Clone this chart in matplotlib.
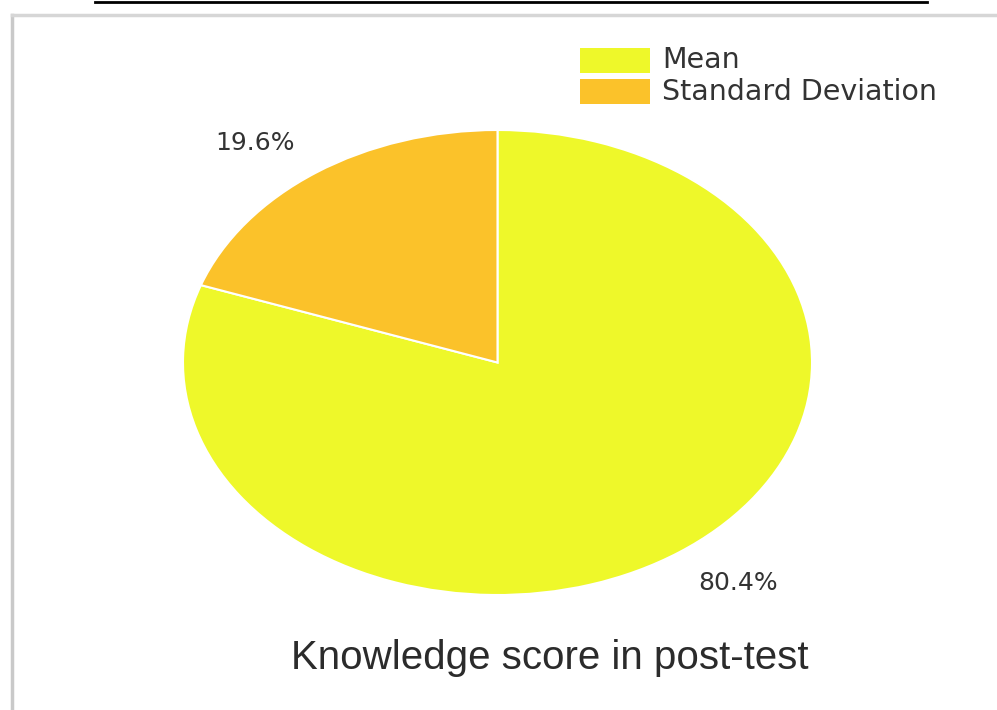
import matplotlib.pyplot as plt
from matplotlib.patches import Rectangle
from matplotlib.lines import Line2D

# ============================================================
# Data
# ============================================================

labels = ['Mean', 'Standard Deviation']
values = [80.4, 19.6]
colors = ['#eef82a', '#fbc22a']
title = 'Knowledge score in post-test'

W, H = 997, 710

fig = plt.figure(figsize=(W / 100, H / 100), dpi=100)

# frame lines (gray box + black rule at the top)
fig.add_artist(Line2D([12 / W, 12 / W], [0, 1 - 15 / H], color='#c9c9c9', lw=2.5))
fig.add_artist(Line2D([12 / W, 1], [1 - 15 / H, 1 - 15 / H], color='#d6d6d6', lw=2.5))
fig.add_artist(Line2D([95 / W, 927 / W], [1 - 1.5 / H, 1 - 1.5 / H], color='black', lw=2))

# ============================================================
# Pie (stretched into an ellipse)
# ============================================================

left, right, top, bottom = 183, 812, 130, 595
ax = fig.add_axes([left / W, 1 - bottom / H, (right - left) / W, (bottom - top) / H])

wedges, texts, autotexts = ax.pie(
    values,
    colors=colors,
    startangle=90,
    counterclock=False,
    autopct='%.1f%%',
    pctdistance=1.22,
    wedgeprops=dict(edgecolor='white', linewidth=1.5),
    textprops=dict(fontsize=18, color='#333333', family='DejaVu Sans'),
)

ax.set_aspect('auto')
ax.set_xlim(-1, 1)
ax.set_ylim(-1, 1)
ax.axis('off')

# small nudges so labels sit like the original
autotexts[0].set_position((0.765, -0.95))
autotexts[1].set_position((-0.77, 0.945))

# ============================================================
# Legend (drawn by hand)
# ============================================================

for i, (lab, col) in enumerate(zip(labels, colors)):
    y0 = 48 + i * 31
    fig.add_artist(Rectangle((580 / W, 1 - (y0 + 25) / H), 70 / W, 25 / H,
                             transform=fig.transFigure, color=col, lw=0))
    fig.text(662 / W, 1 - (y0 + 12.5) / H, lab, fontsize=20.5, color='#333333',
             family='DejaVu Sans', va='center', ha='left')

# ============================================================
# Title below the pie
# ============================================================

fig.text(550 / W, 1 - 658 / H, title, fontsize=29, color='#2b2b2b',
         family='Liberation Sans', ha='center', va='center')

fig.savefig('out.png', dpi=100)
